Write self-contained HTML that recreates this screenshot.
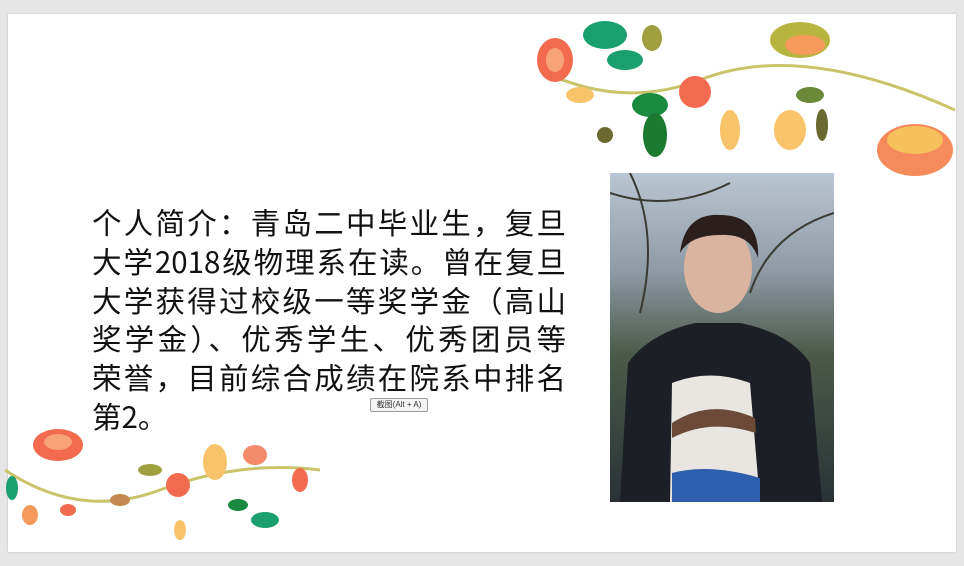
<!DOCTYPE html>
<html><head><meta charset="utf-8"><style>
html,body{margin:0;padding:0;}
body{width:964px;height:566px;background:#e6e6e6;position:relative;overflow:hidden;font-family:"Liberation Sans","Noto Sans CJK SC",sans-serif;}
#slide{position:absolute;left:8px;top:14px;width:948px;height:538px;background:#fff;box-shadow:0 0 2px #bbb;}
#intro{position:absolute;left:92px;top:203px;width:474px;font-size:29.5px;line-height:38.8px;color:#111;font-family:"Noto Sans CJK SC",sans-serif;margin:0;}
#intro span{display:block;text-align:justify;text-align-last:justify;white-space:nowrap;}
#intro span.last{text-align-last:left;}
#photo{position:absolute;left:610px;top:173px;width:224px;height:329px;overflow:hidden;background:linear-gradient(180deg,#b9c6d3 0%,#8e9aa4 30%,#4b5a4a 55%,#2a3236 100%);}
#tip{position:absolute;left:370px;top:398px;width:56px;height:12px;border:1px solid #999;background:#f4f4f4;font-size:8px;line-height:12px;text-align:center;color:#333;border-radius:2px;}
</style></head><body>
<div id="slide"></div>
<p id="intro"><span>个人简介：青岛二中毕业生，复旦</span><span>大学2018级物理系在读。曾在复旦</span><span>大学获得过校级一等奖学金（高山</span><span>奖学金）、优秀学生、优秀团员等</span><span>荣誉，目前综合成绩在院系中排名</span><span class="last">第2。</span></p>
<div id="tip">截图(Alt + A)</div>
<div id="photo">
<svg width="224" height="329">
<g stroke="#3a3a30" stroke-width="2" fill="none"><path d="M0 20 Q60 40 120 10"/><path d="M224 40 Q160 60 140 120"/><path d="M20 0 Q50 60 30 140"/></g>
<ellipse cx="108" cy="95" rx="34" ry="45" fill="#d9b4a0"/>
<path d="M70 80 Q75 40 110 42 Q150 42 148 85 Q140 60 110 62 Q80 62 70 80Z" fill="#2a1f1c"/>
<path d="M10 329 L18 190 Q40 160 85 150 L130 150 Q180 160 200 190 L212 329Z" fill="#1c1f26"/>
<path d="M60 329 L62 210 Q100 195 140 210 L150 329Z" fill="#e9e5e0"/>
<path d="M62 250 Q100 225 145 245 L146 260 Q100 245 62 265Z" fill="#6b4a3a"/>
<path d="M62 300 Q100 290 150 305 L150 329 L62 329Z" fill="#2d5fae"/>
</svg></div>
<svg width="964" height="566" style="position:absolute;left:0;top:0">
<g>
<path d="M540 70 Q620 110 700 80 Q800 40 955 110" stroke="#c9c46a" stroke-width="3" fill="none"/>
<ellipse cx="555" cy="60" rx="18" ry="22" fill="#f26b4f"/><ellipse cx="555" cy="60" rx="9" ry="12" fill="#f8a27a"/>
<ellipse cx="605" cy="35" rx="22" ry="14" fill="#1aa06f"/><ellipse cx="625" cy="60" rx="18" ry="10" fill="#1aa06f"/>
<ellipse cx="652" cy="38" rx="10" ry="13" fill="#a0a040"/>
<ellipse cx="650" cy="105" rx="18" ry="12" fill="#1a8a40"/><ellipse cx="655" cy="135" rx="12" ry="22" fill="#1a7a30"/>
<ellipse cx="695" cy="92" rx="16" ry="16" fill="#f26b4f"/>
<ellipse cx="800" cy="40" rx="30" ry="18" fill="#b8b440"/><ellipse cx="805" cy="45" rx="20" ry="10" fill="#f59a5a"/>
<ellipse cx="790" cy="130" rx="16" ry="20" fill="#f9c36a"/><ellipse cx="730" cy="130" rx="10" ry="20" fill="#f9c36a"/>
<ellipse cx="810" cy="95" rx="14" ry="8" fill="#6a8a3a"/><ellipse cx="822" cy="125" rx="6" ry="16" fill="#6a6a30"/>
<ellipse cx="915" cy="150" rx="38" ry="26" fill="#f58a5a"/><ellipse cx="915" cy="140" rx="28" ry="14" fill="#f6c05a"/>
<ellipse cx="580" cy="95" rx="14" ry="8" fill="#f9c36a"/><ellipse cx="605" cy="135" rx="8" ry="8" fill="#6a6a30"/>
</g>
<g>
<path d="M5 470 Q80 520 160 490 Q240 460 320 470" stroke="#c9c46a" stroke-width="3" fill="none"/>
<ellipse cx="58" cy="445" rx="25" ry="16" fill="#f26b4f"/><ellipse cx="58" cy="442" rx="14" ry="8" fill="#f8a27a"/>
<ellipse cx="30" cy="515" rx="8" ry="10" fill="#f59a5a"/><ellipse cx="12" cy="488" rx="6" ry="12" fill="#1aa06f"/>
<ellipse cx="215" cy="462" rx="12" ry="18" fill="#f9c36a"/><ellipse cx="178" cy="485" rx="12" ry="12" fill="#f26b4f"/>
<ellipse cx="255" cy="455" rx="12" ry="10" fill="#f58a6a"/><ellipse cx="265" cy="520" rx="14" ry="8" fill="#1aa06f"/>
<ellipse cx="150" cy="470" rx="12" ry="6" fill="#a0a040"/><ellipse cx="120" cy="500" rx="10" ry="6" fill="#c08a50"/>
<ellipse cx="300" cy="480" rx="8" ry="12" fill="#f26b4f"/><ellipse cx="180" cy="530" rx="6" ry="10" fill="#f9c36a"/>
<ellipse cx="68" cy="510" rx="8" ry="6" fill="#f26b4f"/><ellipse cx="238" cy="505" rx="10" ry="6" fill="#1a8a40"/>
</g>
</svg>
</body></html>
